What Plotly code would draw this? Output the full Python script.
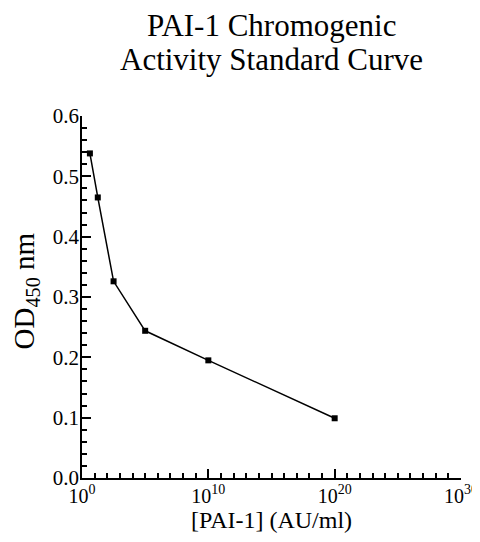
import plotly.graph_objects as go

# Data
pai1_au_ml = [4.217, 17.78, 316.2, 1e5, 1e10, 1e20]
od450 = [0.538, 0.465, 0.326, 0.244, 0.195, 0.099]

x_tickvals = [1, 1e10, 1e20, 1e30]
x_ticktext = ["10<sup>0</sup>", "10<sup>10</sup>", "10<sup>20</sup>", "10<sup>30</sup>"]
x_minor_vals = [10.0 ** i for i in range(31)]

title_lines = ["PAI-1 Chromogenic", "Activity Standard Curve"]
x_title = "[PAI-1] (AU/ml)"
y_title = "OD<sub>450</sub> nm"

FONT = "Liberation Serif"
OFF = 8  # default page body margin
W, H = 480 - 2 * OFF, 542 - 2 * OFF
# plot area in window pixels: left 82, right 461, top 116, bottom 478
PL, PR, PT, PB = 82, 461, 116, 478
ML, MT = PL - OFF, PT - OFF
MR = (OFF + W) - PR
MB = (OFF + H) - PB
PW, PH = PR - PL, PB - PT

fig = go.Figure()
fig.add_trace(go.Scatter(
    x=pai1_au_ml, y=od450, mode="lines+markers",
    line=dict(color="black", width=1.5),
    marker=dict(symbol="square", size=6, color="black"),
    showlegend=False, cliponaxis=False,
))

def py(pix):
    return (PB - pix) / PH

def px(pix):
    return (pix - PL) / PW

for txt, ypix in zip(title_lines, [25.5, 59]):
    fig.add_annotation(text=txt, xref="paper", yref="paper", x=0.5, y=py(ypix),
                       xanchor="center", yanchor="middle", showarrow=False, borderpad=0,
                       font=dict(family=FONT, size=31, color="black"))

fig.add_annotation(text=x_title, xref="paper", yref="paper", x=0.5, y=py(OFF + H),
                   xanchor="center", yanchor="bottom", showarrow=False, borderpad=0,
                   font=dict(family=FONT, size=24, color="black"))

fig.add_annotation(text=y_title, xref="paper", yref="paper", x=px(25.5), y=py(291),
                   xanchor="center", yanchor="middle", textangle=-90, showarrow=False,
                   borderpad=0, font=dict(family=FONT, size=29, color="black"))

fig.update_layout(
    width=W, height=H,
    margin=dict(l=ML, r=MR, t=MT, b=MB, autoexpand=False),
    paper_bgcolor="white", plot_bgcolor="white",
    font=dict(family=FONT, color="black"),
    xaxis=dict(
        type="log", range=[0, 30], automargin=False, ticklabeloverflow="allow",
        ticklabelstandoff=-1,
        tickmode="array", tickvals=x_tickvals, ticktext=x_ticktext,
        ticks="inside", ticklen=9, tickwidth=1.5, tickcolor="black",
        minor=dict(tickmode="array", tickvals=x_minor_vals, ticks="inside",
                   ticklen=5, tickwidth=1.5, tickcolor="black", showgrid=False),
        showline=True, linecolor="black", linewidth=1.5,
        showgrid=False, zeroline=False,
        tickfont=dict(family=FONT, size=20, color="black"),
    ),
    yaxis=dict(
        range=[0, 0.6], tickmode="linear", tick0=0, dtick=0.1, tickformat=".1f",
        automargin=False, ticklabelstandoff=-3,
        ticks="inside", ticklen=9, tickwidth=1.5, tickcolor="black",
        minor=dict(dtick=0.02, ticks="inside", ticklen=5, tickwidth=1.5,
                   tickcolor="black", showgrid=False),
        showline=True, linecolor="black", linewidth=1.5,
        showgrid=False, zeroline=False,
        tickfont=dict(family=FONT, size=21, color="black"),
    ),
)

fig.write_html("out.html")
